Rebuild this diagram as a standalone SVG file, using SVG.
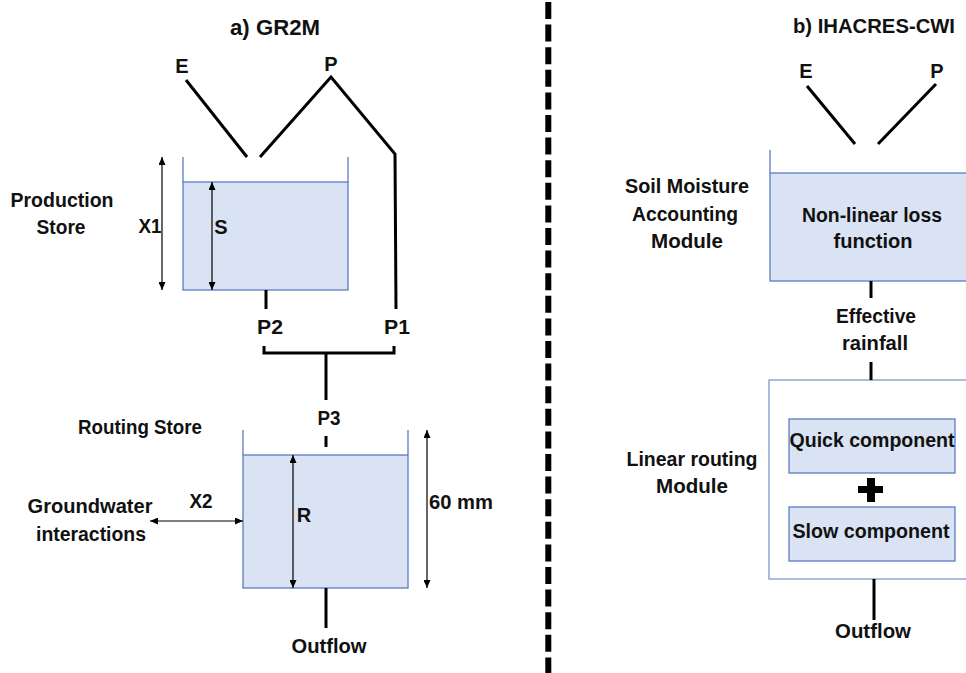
<svg xmlns="http://www.w3.org/2000/svg" width="966" height="673" viewBox="0 0 966 673">
  <style>
    text { font-family: "Liberation Sans", Arial, sans-serif; font-weight: bold; font-size: 20px; fill: #111; text-anchor: middle; }
    .title { font-size: 22px; }
    .title-b { font-size: 20px; }
    .flow { stroke: #000; stroke-width: 3; fill: none; stroke-linecap: butt; }
    .dim { stroke: #000; stroke-width: 1.2; fill: none; marker-start: url(#tip); marker-end: url(#tip); }
    .store { fill: #dae3f3; stroke: #5b7cc2; stroke-width: 1.3; }
    .wall { stroke: #5b7cc2; stroke-width: 1.3; fill: none; }
    .module { fill: #ffffff; stroke: #7f98cc; stroke-width: 1.3; }
  </style>
  <defs>
    <marker id="tip" viewBox="0 0 8 7" refX="8" refY="3.5" markerWidth="8" markerHeight="7" markerUnits="userSpaceOnUse" orient="auto-start-reverse">
      <path d="M0,0 L8,3.5 L0,7 z" fill="#000"/>
    </marker>
  </defs>

  <rect width="966" height="673" fill="#ffffff"/>

  <!-- panel divider -->
  <line x1="548.3" y1="2" x2="548.3" y2="673" stroke="#000" stroke-width="6" stroke-dasharray="17 5.6"/>

  <!-- ===== a) GR2M ===== -->
  <text class="title" x="275" y="35" textLength="90" lengthAdjust="spacingAndGlyphs">a) GR2M</text>

  <g id="input-e-a">
    <text x="182" y="73">E</text>
  </g>
  <g id="input-p-a">
    <text x="331" y="71">P</text>
  </g>

  <g id="production-store">
    <rect class="store" x="183" y="182" width="165" height="108"/>
    <line class="wall" x1="183" y1="157" x2="183" y2="182"/>
    <line class="wall" x1="348" y1="157" x2="348" y2="182"/>
    <text x="62" y="207" textLength="103" lengthAdjust="spacingAndGlyphs">Production</text>
    <text x="61" y="234" textLength="49" lengthAdjust="spacingAndGlyphs">Store</text>
    <line class="dim" x1="162" y1="157" x2="162" y2="290"/>
    <text x="150" y="233" textLength="23" lengthAdjust="spacingAndGlyphs">X1</text>
    <line class="dim" x1="212" y1="182" x2="212" y2="290"/>
    <text x="221" y="234">S</text>
  </g>

  <g id="routing-store">
    <rect class="store" x="243" y="455" width="165" height="133"/>
    <line class="wall" x1="243" y1="430" x2="243" y2="455"/>
    <line class="wall" x1="408" y1="430" x2="408" y2="455"/>
    <text x="140" y="434" textLength="124" lengthAdjust="spacingAndGlyphs">Routing Store</text>
    <line class="dim" x1="293" y1="455" x2="293" y2="588"/>
    <text x="304" y="522">R</text>
    <line class="dim" x1="427" y1="430" x2="427" y2="588"/>
    <text x="461" y="509" textLength="64" lengthAdjust="spacingAndGlyphs">60 mm</text>
  </g>

  <g id="groundwater">
    <text x="90" y="513" textLength="125" lengthAdjust="spacingAndGlyphs">Groundwater</text>
    <text x="91" y="541" textLength="110" lengthAdjust="spacingAndGlyphs">interactions</text>
    <text x="201" y="508" textLength="23" lengthAdjust="spacingAndGlyphs">X2</text>
  </g>

  <g id="connectors-a">
    <line class="flow" x1="186" y1="80" x2="247" y2="157"/>
    <polyline class="flow" points="260,157 331,77 395,154 396,309"/>
    <line class="flow" x1="266" y1="290" x2="266" y2="309"/>
    <polyline class="flow" points="264,346 264,353 394,353 394,346"/>
    <line class="flow" x1="326" y1="353" x2="326" y2="400"/>
    <line class="flow" x1="326" y1="436" x2="326" y2="447"/>
    <line class="flow" x1="326" y1="588" x2="326" y2="628"/>
    <line class="dim" x1="150" y1="521" x2="243" y2="521"/>
  </g>

  <g id="flow-labels-a">
    <text x="270" y="334" textLength="26" lengthAdjust="spacingAndGlyphs">P2</text>
    <text x="397" y="334" textLength="26" lengthAdjust="spacingAndGlyphs">P1</text>
    <text x="329" y="425" textLength="23" lengthAdjust="spacingAndGlyphs">P3</text>
    <text x="329" y="653" textLength="75" lengthAdjust="spacingAndGlyphs">Outflow</text>
  </g>

  <!-- ===== b) IHACRES-CWI ===== -->
  <text class="title-b" x="874" y="33" textLength="162" lengthAdjust="spacingAndGlyphs">b) IHACRES-CWI</text>

  <g id="input-e-b">
    <text x="806" y="78">E</text>
  </g>
  <g id="input-p-b">
    <text x="937" y="78">P</text>
  </g>

  <g id="soil-moisture-module">
    <rect class="store" x="770" y="173" width="220" height="108"/>
    <line class="wall" x1="770" y1="150" x2="770" y2="173"/>
    <text x="872" y="222" textLength="140" lengthAdjust="spacingAndGlyphs">Non-linear loss</text>
    <text x="873" y="248" textLength="79" lengthAdjust="spacingAndGlyphs">function</text>
    <text x="687" y="193" textLength="124" lengthAdjust="spacingAndGlyphs">Soil Moisture</text>
    <text x="685" y="221" textLength="106" lengthAdjust="spacingAndGlyphs">Accounting</text>
    <text x="687" y="248" textLength="72" lengthAdjust="spacingAndGlyphs">Module</text>
  </g>

  <g id="linear-routing-module">
    <rect class="module" x="769" y="380" width="220" height="199"/>
    <text x="692" y="466" textLength="131" lengthAdjust="spacingAndGlyphs">Linear routing</text>
    <text x="692" y="493" textLength="72" lengthAdjust="spacingAndGlyphs">Module</text>
  </g>

  <g id="quick-component">
    <rect class="store" x="789" y="419" width="166" height="54"/>
    <text x="872" y="447" textLength="165" lengthAdjust="spacingAndGlyphs">Quick component</text>
  </g>

  <g id="combine">
    <path d="M867,478 h8 v8 h8 v7 h-8 v9 h-8 v-9 h-9 v-7 h9 z" fill="#000"/>
  </g>

  <g id="slow-component">
    <rect class="store" x="789" y="507" width="166" height="54"/>
    <text x="871" y="538" textLength="157" lengthAdjust="spacingAndGlyphs">Slow component</text>
  </g>

  <g id="connectors-b">
    <line class="flow" x1="807" y1="86" x2="855" y2="144"/>
    <line class="flow" x1="936" y1="84" x2="878" y2="144"/>
    <line class="flow" x1="871" y1="281" x2="871" y2="298"/>
    <line class="flow" x1="871" y1="362" x2="871" y2="380"/>
    <line class="flow" x1="874" y1="579" x2="874" y2="620"/>
  </g>

  <g id="flow-labels-b">
    <text x="876" y="323" textLength="80" lengthAdjust="spacingAndGlyphs">Effective</text>
    <text x="875" y="350" textLength="66" lengthAdjust="spacingAndGlyphs">rainfall</text>
    <text x="873" y="638" textLength="76" lengthAdjust="spacingAndGlyphs">Outflow</text>
  </g>
</svg>
